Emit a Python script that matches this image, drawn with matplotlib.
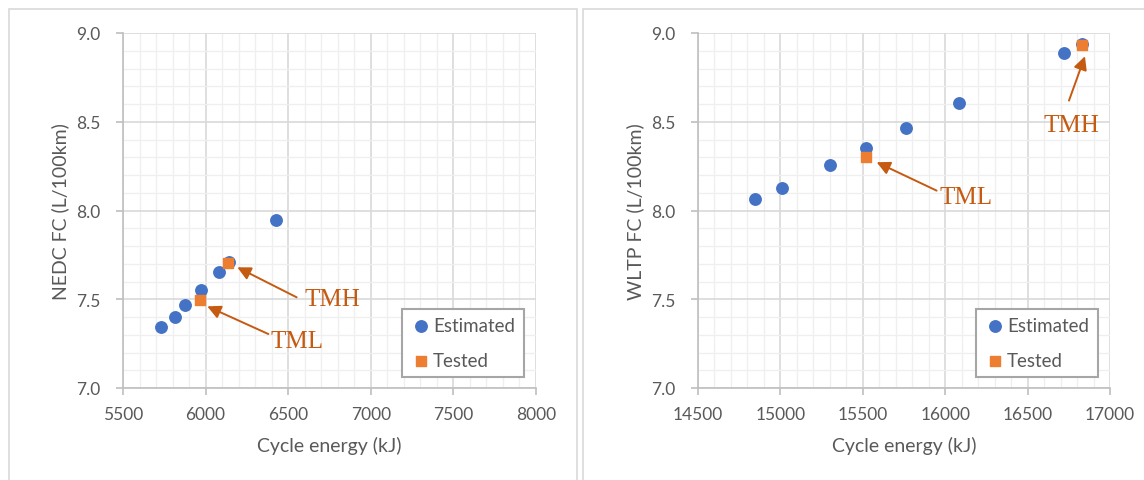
import matplotlib.pyplot as plt
from matplotlib.patches import Rectangle
from matplotlib.ticker import MultipleLocator

plt.rcParams['font.family'] = ['Lato', 'DejaVu Sans']

# NEDC panel
nedc_est_x = [5733, 5812, 5874, 5970, 6080, 6143, 6425]
nedc_est_y = [7.345, 7.40, 7.465, 7.552, 7.652, 7.708, 7.945]
nedc_test_x = [5968, 6138]
nedc_test_y = [7.497, 7.703]

# WLTP panel
wltp_est_x = [14845, 15008, 15301, 15519, 15761, 16082, 16719, 16830]
wltp_est_y = [8.062, 8.124, 8.256, 8.354, 8.465, 8.608, 8.885, 8.938]
wltp_test_x = [15519, 16830]
wltp_test_y = [8.300, 8.932]

blue = '#4472C4'
orange = '#ED7D31'
dark_orange = '#C55A11'
grey_txt = '#595959'

fig = plt.figure(figsize=(11.44, 4.81), dpi=100)

# panel frames
fig.patches.append(Rectangle((9 / 1144, -0.1), 568 / 1144, 1.1 - 10 / 481,
                             transform=fig.transFigure, fill=False,
                             edgecolor='#D9D9D9', lw=1.2))
fig.patches.append(Rectangle((583 / 1144, -0.1), 0.6, 1.1 - 10 / 481,
                             transform=fig.transFigure, fill=False,
                             edgecolor='#D9D9D9', lw=1.2))

ax1 = fig.add_axes([123 / 1144, 1 - 389 / 481, 413 / 1144, 355 / 481])
ax2 = fig.add_axes([698 / 1144, 1 - 389 / 481, 412 / 1144, 355 / 481])


def style(ax, xlim, ylabel):
    ax.set_xlim(*xlim)
    ax.set_ylim(7.0, 9.0)
    ax.xaxis.set_major_locator(MultipleLocator(500))
    ax.xaxis.set_minor_locator(MultipleLocator(100))
    ax.yaxis.set_major_locator(MultipleLocator(0.5))
    ax.yaxis.set_minor_locator(MultipleLocator(0.1))
    ax.yaxis.set_major_formatter(plt.FormatStrFormatter('%.1f'))
    ax.grid(which='major', color='#D9D9D9', lw=1.2, zorder=0)
    ax.grid(which='minor', color='#EFEFEF', lw=0.9, zorder=0)
    ax.set_axisbelow(True)
    for s in ['top', 'right']:
        ax.spines[s].set_visible(False)
    for s in ['left', 'bottom']:
        ax.spines[s].set_color('#BFBFBF')
        ax.spines[s].set_linewidth(1.2)
    ax.tick_params(which='major', length=5, color='#BFBFBF', width=1.2,
                   labelsize=12.5, labelcolor=grey_txt)
    ax.tick_params(axis='x', pad=8)
    ax.tick_params(axis='y', pad=11)
    ax.tick_params(which='minor', length=0)
    ax.set_xlabel('Cycle energy (kJ)', fontsize=14, color=grey_txt)
    ax.set_ylabel(ylabel, fontsize=14, color=grey_txt)
    ax.xaxis.set_label_coords(0.5, -0.135)
    ax.yaxis.set_label_coords(-0.13, 0.5)


style(ax1, (5500, 8000), 'NEDC FC (L/100km)')
style(ax2, (14500, 17000), 'WLTP FC (L/100km)')

for ax, ex, ey, tx, ty in [(ax1, nedc_est_x, nedc_est_y, nedc_test_x, nedc_test_y),
                           (ax2, wltp_est_x, wltp_est_y, wltp_test_x, wltp_test_y)]:
    ax.scatter(ex, ey, s=68, color=blue, marker='o', label='Estimated', zorder=3)
    ax.scatter(tx, ty, s=46, color=orange, marker='s', label='Tested', zorder=4)
    leg = ax.legend(loc='lower right', bbox_to_anchor=(0.97, 0.03), fontsize=13.5,
                    labelcolor=grey_txt, fancybox=False, framealpha=1,
                    edgecolor='#A6A6A6', labelspacing=0.95, handletextpad=0.1,
                    borderpad=0.45, borderaxespad=0, handlelength=1.1)
    leg.get_frame().set_linewidth(1.5)

arrow = dict(arrowstyle='-|>', color=dark_orange, lw=1.4, mutation_scale=20,
             shrinkA=0, shrinkB=0)
txt = dict(fontsize=18, color=dark_orange, family='Liberation Serif', va='center')

ax1.annotate('', xy=(6192, 7.680), xytext=(6551, 7.511), arrowprops=arrow)
ax1.text(6596, 7.501, 'TMH', ha='left', **txt)
ax1.annotate('', xy=(6010, 7.460), xytext=(6380, 7.304), arrowprops=arrow)
ax1.text(6394, 7.267, 'TML', ha='left', **txt)

ax2.annotate('', xy=(15584, 8.272), xytext=(15948, 8.112), arrowprops=arrow)
ax2.text(15968, 8.074, 'TML', ha='left', **txt)
ax2.annotate('', xy=(16848, 8.869), xytext=(16751, 8.619), arrowprops=arrow)
ax2.text(16768, 8.480, 'TMH', ha='center', **txt)

fig.savefig('out.png', dpi=100)
